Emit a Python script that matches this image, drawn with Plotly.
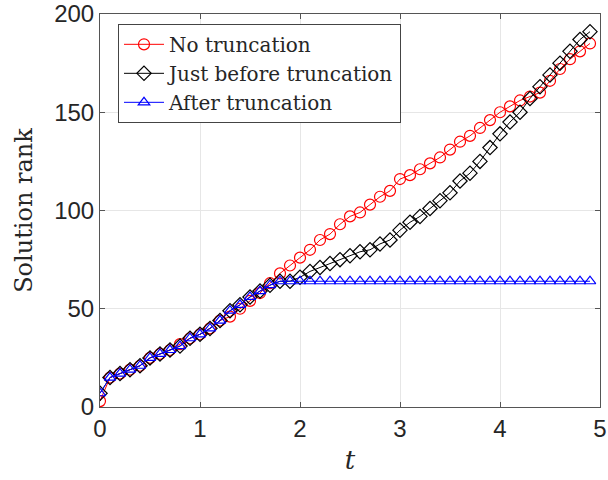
import plotly.graph_objects as go

t = [round(0.1 * i, 1) for i in range(50)]

no_trunc = [3, 15, 17, 19, 21, 25, 27, 29, 32, 35,
            37, 40, 44, 46, 50, 54, 58, 63, 68, 72,
            76, 80, 85, 88, 93, 97, 99, 103, 107, 110,
            116, 118, 121, 124, 127, 131, 135, 138, 142, 146,
            150, 153, 156, 158, 160, 166, 172, 177, 181, 185]

just_before = [7, 15, 17, 19, 21, 25, 27, 29, 31, 35,
               37, 40, 44, 49, 52, 56, 59, 62, 64, 64,
               66, 69, 71, 73, 75, 77, 79, 80, 83, 85,
               90, 94, 97, 101, 105, 109, 115, 119, 125, 132,
               139, 145, 150, 157, 163, 169, 175, 181, 187, 191]

after = [7, 15, 17, 19, 21, 25, 27, 29, 31, 35,
         37, 40, 44, 49, 52, 56, 59, 62, 64, 64,
         64, 64, 64, 64, 64, 64, 64, 64, 64, 64,
         64, 64, 64, 64, 64, 64, 64, 64, 64, 64,
         64, 64, 64, 64, 64, 64, 64, 64, 64, 64]

x_ticks = [0, 1, 2, 3, 4, 5]
y_ticks = [0, 50, 100, 150, 200]

SERIF = "DejaVu Serif, Liberation Serif, serif"

fig = go.Figure()
fig.add_trace(go.Scatter(
    x=t, y=no_trunc, mode="lines+markers", name="No truncation",
    line=dict(color="#ff0000", width=1),
    marker=dict(symbol="circle-open", size=11, color="#ff0000", line=dict(width=1.2)),
))
fig.add_trace(go.Scatter(
    x=t, y=just_before, mode="lines+markers", name="Just before truncation",
    line=dict(color="#000000", width=1),
    marker=dict(symbol="diamond-open", size=11, color="#000000", line=dict(width=1.2)),
))
fig.add_trace(go.Scatter(
    x=t, y=after, mode="lines+markers", name="After truncation",
    line=dict(color="#0000ff", width=1),
    marker=dict(symbol="triangle-up-open", size=10, color="#0000ff", line=dict(width=1.2)),
))

axis_common = dict(
    showline=True, linecolor="#555555", linewidth=1, mirror="ticks",
    ticks="inside", ticklen=5, tickcolor="#555555",
    showgrid=True, gridcolor="#e6e6e6", gridwidth=1,
    zeroline=False, automargin=False, ticklabeloverflow="allow",
    tickfont=dict(family="Liberation Sans, Arial, sans-serif", size=24, color="#262626"),
)

fig.update_layout(
    width=608, height=480,
    paper_bgcolor="white", plot_bgcolor="white",
    margin=dict(l=100, r=8, t=14, b=73),
    xaxis=dict(range=[0, 5], tickvals=x_ticks, ticktext=[str(v) for v in x_ticks],
               title=dict(text="<i>t</i>", standoff=10,
                          font=dict(family=SERIF, size=26, color="#262626")),
               **axis_common),
    yaxis=dict(range=[0, 200], tickvals=y_ticks, ticktext=[str(v) for v in y_ticks],
               title=dict(text="Solution rank", standoff=14,
                          font=dict(family=SERIF, size=24, color="#262626")),
               **axis_common),
    legend=dict(
        x=0.036, y=0.975, xanchor="left", yanchor="top",
        bgcolor="white", bordercolor="#444444", borderwidth=1,
        font=dict(family=SERIF, size=20, color="#262626"),
        tracegroupgap=0, itemwidth=40,
    ),
    showlegend=True,
)

fig.write_html(
    "out.html",
    config={"displayModeBar": False},
    post_script="document.body.style.margin='0px';document.body.style.overflow='hidden';",
)
